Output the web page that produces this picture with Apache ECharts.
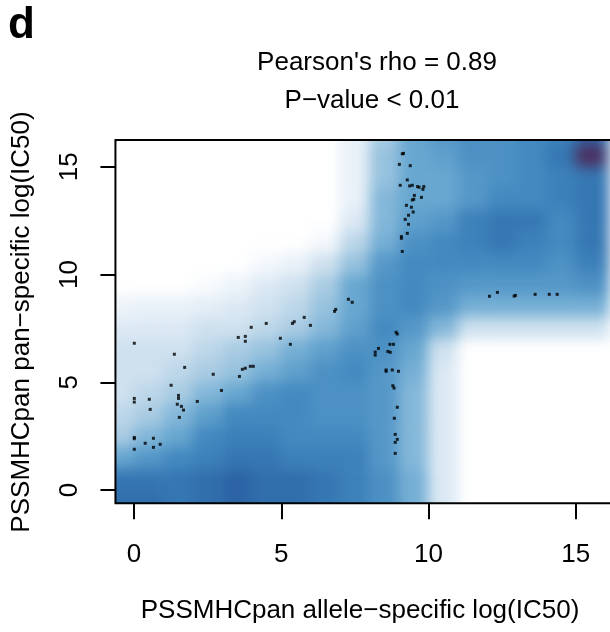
<!DOCTYPE html>
<html><head><meta charset="utf-8">
<script src="https://cdn.jsdelivr.net/npm/echarts@6/dist/echarts.min.js"></script>
<style>
html,body{margin:0;padding:0;background:#fff;}
#wrap{position:relative;width:610px;height:632px;overflow:hidden;background:#fff;}
#dens{position:absolute;left:0;top:0;width:610px;height:632px;filter:blur(7px);clip-path:inset(140px 0px 129px 115px);}
#main{position:absolute;left:0;top:0;width:610px;height:632px;}
</style></head><body>
<div id="wrap"><div id="dens"></div><div id="main"></div></div>
<script>
// ---------------- data ----------------
var panelLetter = 'd';
var titleLine1 = "Pearson's rho = 0.89";
var titleLine2 = 'P\u2212value < 0.01';
var xAxisTitle = 'PSSMHCpan allele\u2212specific log(IC50)';
var yAxisTitle = 'PSSMHCpan pan\u2212specific log(IC50)';
var xTicks = [0, 5, 10, 15];
var yTicks = [0, 5, 10, 15];

// outlying points drawn as dots
var ptsX = [9.11,9.15,9.01,9.38,9.28,9.04,9.36,9.45,9.63,9.68,9.84,9.81,9.52,9.76,9.45,9.50,9.25,9.42,9.48,9.32,9.21,9.32,9.28,9.08,9.08,9.11,
  12.07,12.34,12.91,12.95,13.62,14.10,14.37,
  8.90,8.94,8.69,8.81,8.30,8.19,8.19,8.62,8.70,8.56,8.56,8.77,8.98,8.79,8.83,8.94,8.84,8.87,8.94,8.87,8.87,
  0.01,1.37,1.72,1.26,0.01,0.01,0.52,0.55,1.51,1.51,1.47,1.61,1.68,1.54,2.15,2.69,2.97,0.01,0.01,0.38,0.66,0.89,0.66,0.01,
  3.54,3.78,3.78,3.98,4.49,4.97,5.31,5.38,5.44,5.78,5.99,6.81,6.85,7.28,7.41,3.58,3.68,3.78,3.95,4.05];
var ptsY = [15.60,15.62,15.11,15.05,14.39,14.14,14.11,14.14,14.08,14.05,14.08,13.95,13.67,13.58,13.46,13.49,13.21,13.12,12.90,12.75,12.56,12.33,11.91,11.76,11.68,11.07,
  8.99,9.17,9.00,9.03,9.08,9.08,9.08,
  7.32,7.24,6.76,6.76,6.57,6.40,6.26,6.43,6.39,5.57,5.51,5.57,5.51,4.84,4.73,3.84,3.33,2.58,2.35,2.21,1.70,
  6.81,6.30,5.69,4.86,4.25,4.08,4.21,3.74,4.39,4.25,3.98,3.88,3.71,3.37,4.11,5.37,4.62,2.44,2.38,2.17,2.40,2.12,1.98,1.89,
  7.08,7.13,6.90,7.55,7.73,7.04,6.76,7.73,7.81,8.01,7.64,8.29,8.38,8.85,8.71,5.27,5.60,5.65,5.74,5.74];

// smoothed density level (0 = white ... 10 = peak), cells 1x1 unit
var densityXCenters = [-1.5,-0.5,0.5,1.5,2.5,3.5,4.5,5.5,6.5,7.5,8.5,9.5,10.5,11.5,12.5,13.5,14.5,15.5,16.5,17.5];
var densityYCenters = [17.5,16.5,15.5,14.5,13.5,12.5,11.5,10.5,9.5,8.5,7.5,6.5,5.5,4.5,3.5,2.5,1.5,0.5,-0.5,-1.5];
var densityLevels = [
  [0,0,0,0,0,0,0,0,0,1,3,5,6,6.5,6.5,7,7.5,9,8,8],
  [0,0,0,0,0,0,0,0,0,1,3,5,6,6.5,6.5,7,7.5,9,8,8],
  [0,0,0,0,0,0,0,0,0,1,3.5,5,5.5,6.5,6.5,7,8,10,8.5,8],
  [0,0,0,0,0,0,0,0,0,1,3.5,5,5,6,6.5,7,7.5,8,8,8],
  [0,0,0,0,0,0,0,0,0,1,4,5,5,6,7,7,7.5,8,8,8],
  [0,0,0,0,0,0,0,0,0,1.5,4,5.5,6,7.5,8,8,7,8,8,8],
  [0,0,0,0,0,0,0,0,0.5,2.5,4.5,6.5,7,7.5,8,7.5,7,8,8,8],
  [0,0,0,0,0,0,0.5,1,2,3.5,6,7,7,7,7,7,6.5,7.5,8,8],
  [0,0,0,0,0.3,0.8,1.5,2,3,5,6.5,7,6.5,6,6,6,6,6.5,7,7],
  [0.5,0.8,1,1,1.2,1.5,2,2.5,3.5,5,6.5,7,6,4.5,4.5,4.5,4.5,4.5,4.5,4.5],
  [1,1.5,1.5,1.5,2,2,2.5,3,4,5.5,7,6,4,2,2,2,2,2,2,2],
  [2,2,2,2,2.5,3,3.5,4.5,5.5,6.5,6.5,5,2,0,0,0,0,0,0,0],
  [2,2,2,2.5,3,3.5,4.5,5.5,6.5,7,6,4.5,1.5,0,0,0,0,0,0,0],
  [2,2,2.5,3,4,5,6.5,7,6.5,6.5,6,4,1.5,0,0,0,0,0,0,0],
  [2.5,2.5,3,4,5.5,7,7,7,6.5,6.5,6,4,1.5,0,0,0,0,0,0,0],
  [3,3,4,5,7,7.5,7.5,7,7,7,6,4,1.5,0,0,0,0,0,0,0],
  [5,5,6,7,7.5,8,8,7.5,7.5,7.5,6,4,1.5,0,0,0,0,0,0,0],
  [8,8,8,8,8.5,9,8.5,8.5,8,7.5,6.5,4.5,1.5,0,0,0,0,0,0,0],
  [8.5,8.5,8.5,8,8.5,9,8.5,8.5,8,7.5,6.5,4.5,1.5,0,0,0,0,0,0,0],
  [8.5,8.5,8.5,8,8.5,9,8.5,8.5,8,7.5,6.5,4.5,1.5,0,0,0,0,0,0,0]
];
var densityColors = ['#ffffff','#e9f1f8','#cfe1ef','#aacce3','#84b7d9','#68a7d0','#5598c8','#448ac0','#3577b3','#2c64a5','#4d2f5e'];

// ---------------- layout ----------------
var X0PX = 134, XPU = 29.45, Y0PX = 490, YPU = 21.55;
var XMIN = -0.63, XMAX = 17.2, YMIN = -0.62, YMAX = 16.24;
var FONT = '"Liberation Sans", Arial, sans-serif';

// density layer
var dens = echarts.init(document.getElementById('dens'), null, {renderer: 'canvas'});
var hmData = [];
var nR = densityYCenters.length;
for (var r = 0; r < nR; r++) {
  for (var c = 0; c < densityXCenters.length; c++) {
    hmData.push([c, nR - 1 - r, densityLevels[r][c]]);
  }
}
var dxMin = densityXCenters[0] - 0.5, dxMax = densityXCenters[densityXCenters.length - 1] + 0.5;
var dyMin = densityYCenters[nR - 1] - 0.5, dyMax = densityYCenters[0] + 0.5;
dens.setOption({
  animation: false,
  grid: {left: X0PX + dxMin * XPU, width: (dxMax - dxMin) * XPU, top: Y0PX - dyMax * YPU, height: (dyMax - dyMin) * YPU, outerBoundsMode: 'none', containLabel: false},
  xAxis: {type: 'category', data: densityXCenters.map(String), show: false},
  yAxis: {type: 'category', data: densityYCenters.slice().reverse().map(String), show: false},
  visualMap: {show: false, min: 0, max: 10, dimension: 2, seriesIndex: 0, inRange: {color: densityColors}},
  series: [{type: 'heatmap', data: hmData, silent: true, progressive: 0, itemStyle: {borderWidth: 0}}]
});

// main layer
var chart = echarts.init(document.getElementById('main'), null, {renderer: 'canvas'});
var pts = ptsX.map(function (x, i) { return [x, ptsY[i]]; });
var gridLeft = X0PX + XMIN * XPU, gridTop = Y0PX - YMAX * YPU;
var gridW = (XMAX - XMIN) * XPU, gridH = (YMAX - YMIN) * YPU;
chart.setOption({
  animation: false,
  backgroundColor: 'transparent',
  textStyle: {fontFamily: FONT},
  grid: {left: gridLeft, top: gridTop, width: gridW, height: gridH, show: true, borderColor: '#000', borderWidth: 2, backgroundColor: 'transparent', outerBoundsMode: 'none', containLabel: false},
  xAxis: {
    type: 'value', min: XMIN, max: XMAX, position: 'bottom',
    axisLine: {show: false, onZero: false},
    splitLine: {show: false},
    axisTick: {show: true, inside: false, length: 16, lineStyle: {color: '#000', width: 2}, customValues: xTicks},
    axisLabel: {customValues: xTicks, fontSize: 26, color: '#000', margin: 38, fontFamily: FONT}
  },
  yAxis: {
    type: 'value', min: YMIN, max: YMAX, position: 'left',
    axisLine: {show: false, onZero: false},
    splitLine: {show: false},
    axisTick: {show: true, inside: false, length: 15, lineStyle: {color: '#000', width: 2}, customValues: yTicks},
    axisLabel: {customValues: yTicks, fontSize: 26, color: '#000', margin: 33, rotate: 90, fontFamily: FONT}
  },
  series: [{type: 'scatter', data: pts, symbol: 'rect', symbolSize: 3, itemStyle: {color: '#000'}, silent: true}],
  graphic: [
    {type: 'text', left: 8, top: 4, style: {text: panelLetter, font: 'bold 44px ' + FONT, fill: '#000'}},
    {type: 'text', x: 377, y: 63, style: {text: titleLine1, font: '26px ' + FONT, fill: '#000', align: 'center', verticalAlign: 'middle'}},
    {type: 'text', x: 372, y: 101, style: {text: titleLine2, font: '26px ' + FONT, fill: '#000', align: 'center', verticalAlign: 'middle'}},
    {type: 'text', x: 360, y: 611, style: {text: xAxisTitle, font: '26px ' + FONT, fill: '#000', align: 'center', verticalAlign: 'middle'}},
    {type: 'text', x: 22, y: 322, rotation: Math.PI / 2, style: {text: yAxisTitle, font: '26px ' + FONT, fill: '#000', align: 'center', verticalAlign: 'middle'}}
  ]
});
</script>
</body></html>
